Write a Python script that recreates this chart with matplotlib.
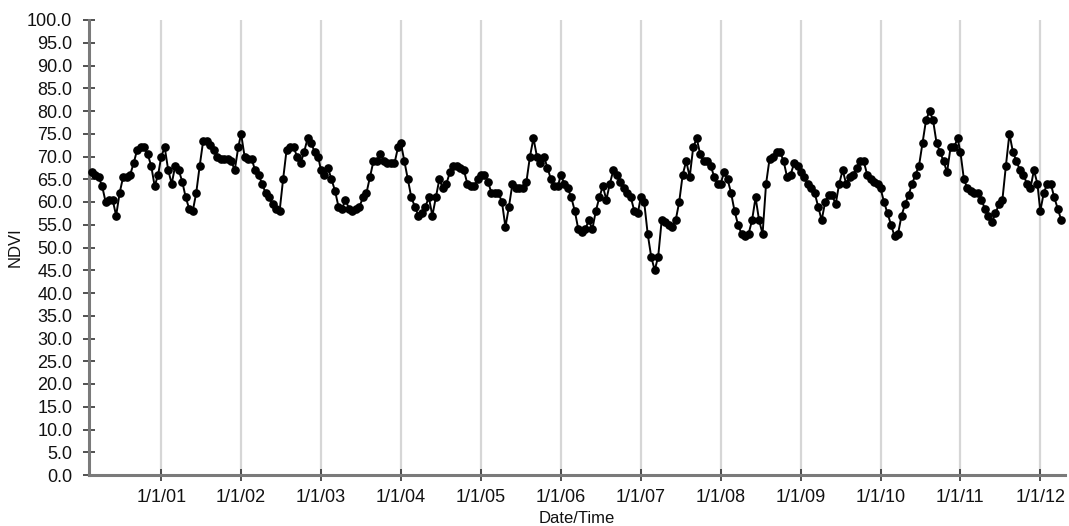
import datetime as dt
import matplotlib
matplotlib.use("Agg")
import matplotlib.pyplot as plt

plt.rcParams['font.family'] = ['Liberation Sans', 'DejaVu Sans']

# 16-day NDVI composites (x100), one list per year
ndvi_2000 = [66.5, 66, 65.5, 63.5, 60, 60.5, 60.5, 57, 62, 65.5, 65.5, 66, 68.5, 71.5, 72, 72, 70.5, 68, 63.5, 66]
ndvi_2001 = [70, 72, 67, 64, 68, 67, 64.5, 61, 58.5, 58, 62, 68, 73.5, 73.5, 72.5, 71.5, 70, 69.5, 69.5, 69.5, 69, 67, 72]
ndvi_2002 = [75, 70, 69.5, 69.5, 67, 66, 64, 62, 61, 59.5, 58.5, 58, 65, 71.5, 72, 72, 70, 68.5, 71, 74, 73, 71, 70]
ndvi_2003 = [67, 66, 67.5, 65, 62.5, 59, 58.5, 60.5, 58.5, 58, 58.5, 59, 61, 62, 65.5, 69, 69, 70.5, 69, 68.5, 68.5, 68.5, 72]
ndvi_2004 = [73, 69, 65, 61, 59, 57, 57.5, 59, 61, 57, 61, 65, 63, 64, 66.5, 68, 68, 67.5, 67, 64, 63.5, 63.5, 65]
ndvi_2005 = [66, 66, 64.5, 62, 62, 62, 60, 54.5, 59, 64, 63, 63, 63, 64.5, 70, 74, 70, 68.5, 70, 67.5, 65, 63.5, 63.5]
ndvi_2006 = [66, 64, 63, 61, 58, 54, 53.5, 54, 56, 54, 58, 61, 63.5, 60.5, 64, 67, 66, 64.5, 63, 62, 61, 58, 57.5]
ndvi_2007 = [61, 60, 53, 48, 45, 48, 56, 55.5, 55, 54.5, 56, 60, 66, 69, 65.5, 72, 74, 70.5, 69, 69, 68, 65.5, 64]
ndvi_2008 = [64, 66.5, 65, 62, 58, 55, 53, 52.5, 53, 56, 61, 56, 53, 64, 69.5, 70, 71, 71, 69, 65.5, 66, 68.5, 68]
ndvi_2009 = [66.5, 65.5, 64, 63, 62, 59, 56, 60, 61.5, 61.5, 59.5, 64, 67, 64, 65.5, 66, 67.5, 69, 69, 66, 65, 64.5, 64]
ndvi_2010 = [63, 60, 57.5, 55, 52.5, 53, 57, 59.5, 61.5, 64, 66, 68, 73, 78, 80, 78, 73, 71, 69, 66.5, 72, 72, 74]
ndvi_2011 = [71, 65, 63, 62.5, 62, 62, 60.5, 58.5, 57, 55.5, 57.5, 59.5, 60.5, 68, 75, 71, 69, 67, 66, 64, 63, 67, 64]
ndvi_2012 = [58, 62, 64, 64, 61, 58.5, 56]

years = list(range(2000, 2013))
yearly = [ndvi_2000, ndvi_2001, ndvi_2002, ndvi_2003, ndvi_2004, ndvi_2005, ndvi_2006,
          ndvi_2007, ndvi_2008, ndvi_2009, ndvi_2010, ndvi_2011, ndvi_2012]

tick_years = list(range(2001, 2013))
tick_labels = ['1/1/01', '1/1/02', '1/1/03', '1/1/04', '1/1/05', '1/1/06',
               '1/1/07', '1/1/08', '1/1/09', '1/1/10', '1/1/11', '1/1/12']

dates = []
values = []
for yr, vals in zip(years, yearly):
    first_doy = 49 if yr == 2000 else 1
    for i, v in enumerate(vals):
        dates.append(dt.datetime(yr, 1, 1) + dt.timedelta(days=first_doy - 1 + 16 * i))
        values.append(v)

fig = plt.figure(figsize=(10.69, 5.26), dpi=100)
ax = fig.add_axes([89 / 1069, 1 - 475 / 526, (1065 - 89) / 1069, (475 - 20) / 526])

tick_dates = [dt.datetime(y, 1, 1) for y in tick_years]
for d in tick_dates:
    ax.axvline(d, color='#d6d6d6', lw=1.6, zorder=0)

ax.plot(dates, values, '-', color='black', lw=1.4, marker='o', ms=5.2,
        mfc='black', mec='black', zorder=3, clip_on=False)

ax.set_xlim(dt.datetime(2000, 2, 6), dt.datetime(2012, 4, 23))
ax.set_ylim(0, 100)
ax.set_yticks([i * 5 for i in range(21)])
ax.set_yticklabels(['%.1f' % (i * 5) for i in range(21)])
ax.set_xticks(tick_dates)
ax.set_xticklabels(tick_labels)

for s in ['top', 'right']:
    ax.spines[s].set_visible(False)
for s in ['left', 'bottom']:
    ax.spines[s].set_color('#7a7a7a')
    ax.spines[s].set_linewidth(2.2)

ax.tick_params(axis='y', direction='inout', length=8, width=1.1, color='#222222',
               labelsize=13, pad=8, labelcolor='#111111')
ax.tick_params(axis='x', direction='inout', length=8, width=1.1, color='#222222',
               labelsize=13, pad=6, labelcolor='#111111')

ax.set_ylabel('NDVI', fontsize=12, color='#111111', labelpad=3)
ax.set_xlabel('Date/Time', fontsize=12, color='#111111', labelpad=4)

fig.savefig('out.png', dpi=100)
